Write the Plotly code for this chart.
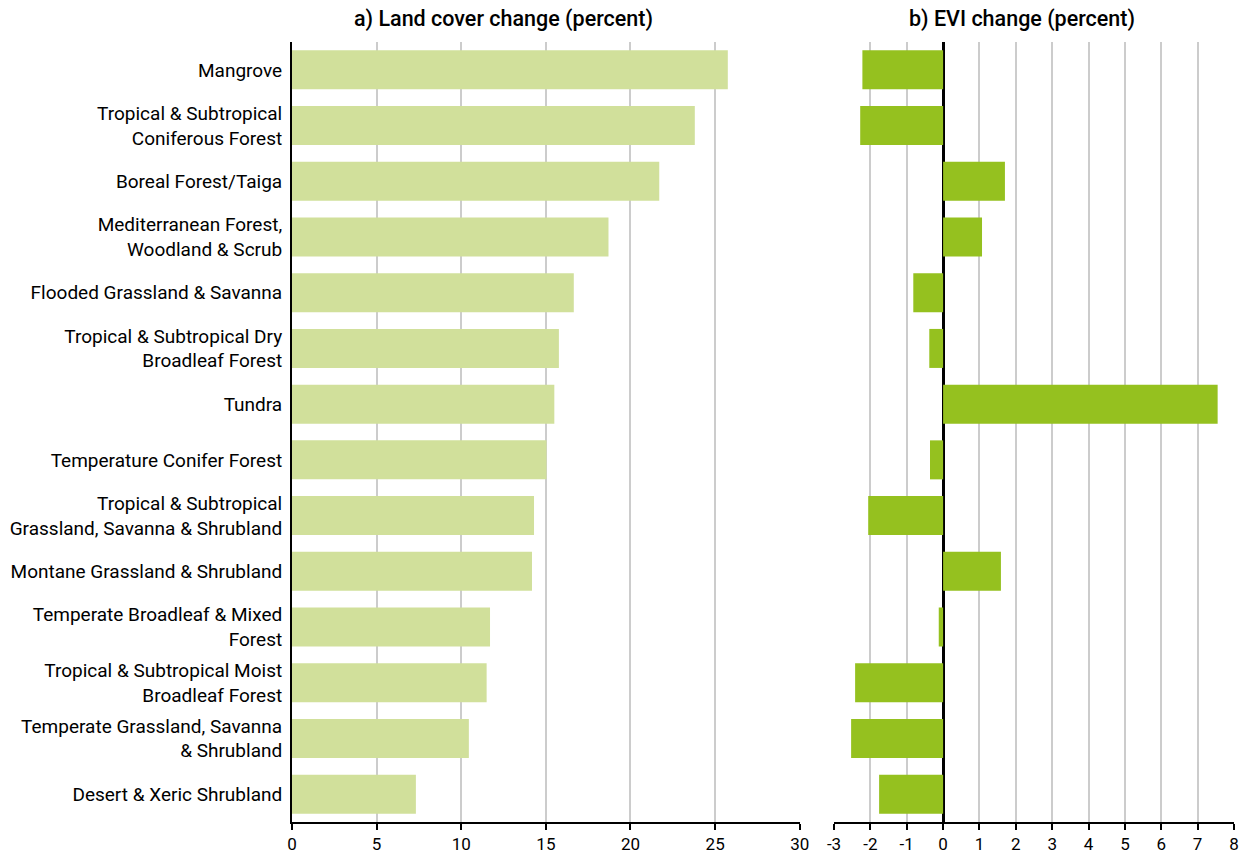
import plotly.graph_objects as go
from plotly.subplots import make_subplots

# biomes, top to bottom
biomes = [
    "Mangrove",
    "Tropical & Subtropical<br>Coniferous Forest",
    "Boreal Forest/Taiga",
    "Mediterranean Forest,<br>Woodland & Scrub",
    "Flooded Grassland & Savanna",
    "Tropical & Subtropical Dry<br>Broadleaf Forest",
    "Tundra",
    "Temperature Conifer Forest",
    "Tropical & Subtropical<br>Grassland, Savanna & Shrubland",
    "Montane Grassland & Shrubland",
    "Temperate Broadleaf & Mixed<br>Forest",
    "Tropical & Subtropical Moist<br>Broadleaf Forest",
    "Temperate Grassland, Savanna<br>& Shrubland",
    "Desert & Xeric Shrubland",
]
land_cover_change = [25.75, 23.8, 21.7, 18.7, 16.65, 15.77, 15.5,
                     15.04, 14.3, 14.18, 11.7, 11.5, 10.45, 7.32]
evi_change = [-2.22, -2.28, 1.70, 1.07, -0.82, -0.38, 7.55,
              -0.36, -2.06, 1.59, -0.12, -2.42, -2.53, -1.76]

# tick labels for the EVI axis (plain hyphen for negatives)
evi_ticks = list(range(-3, 9))
evi_ticktext = [str(t) for t in evi_ticks]

fig = make_subplots(rows=1, cols=2, shared_yaxes=True,
                    subplot_titles=("a) Land cover change (percent)",
                                    "b) EVI change (percent)"))

# a) land cover
fig.add_trace(go.Bar(
    x=land_cover_change,
    y=biomes,
    orientation="h",
    marker=dict(color="#d1e09b", line=dict(width=0)),
    width=0.7,
    showlegend=False,
), 1, 1)

# b) EVI
fig.add_trace(go.Bar(
    x=evi_change,
    y=biomes,
    orientation="h",
    marker=dict(color="#95c11f", line=dict(width=0)),
    width=0.7,
    showlegend=False,
), 1, 2)

axis_common = dict(
    showgrid=True, gridcolor="#cccccc", gridwidth=1.5,
    showline=True, linecolor="black", linewidth=2,
    ticks="outside", ticklen=6, tickwidth=2, tickcolor="black",
    tickfont=dict(size=17, color="black"),
    automargin=False,
)

fig.update_layout(
    width=1241, height=854,
    font=dict(family="Roboto", size=18, color="black"),
    paper_bgcolor="white",
    plot_bgcolor="white",
    margin=dict(l=292, r=7, t=42, b=32),
    bargap=0.3,
    xaxis=dict(range=[0, 30], dtick=5, domain=[0, 0.539],
               zeroline=False, **axis_common),
    xaxis2=dict(range=[-3, 8], tickmode="array", tickvals=evi_ticks,
                ticktext=evi_ticktext, domain=[0.5754, 1],
                zeroline=True, zerolinecolor="black", zerolinewidth=2.5,
                **axis_common),
    yaxis=dict(autorange="reversed", showgrid=False, showline=True,
               linecolor="black", linewidth=2, ticks="",
               tickfont=dict(size=19, color="black"), ticklabelstandoff=4,
               automargin=False),
    yaxis2=dict(autorange="reversed", showgrid=False, showline=False,
                ticks="", automargin=False),
)

for ann in fig.layout.annotations:
    ann.font = dict(family="Roboto", size=21.5, color="black", weight=500)
    ann.y = 1.0
    ann.yshift = 8

# drop the page's default body margin so the figure sits at the window corner
fig.write_html("out.html", config={"displayModeBar": False},
               post_script="document.body.style.margin='0';")
